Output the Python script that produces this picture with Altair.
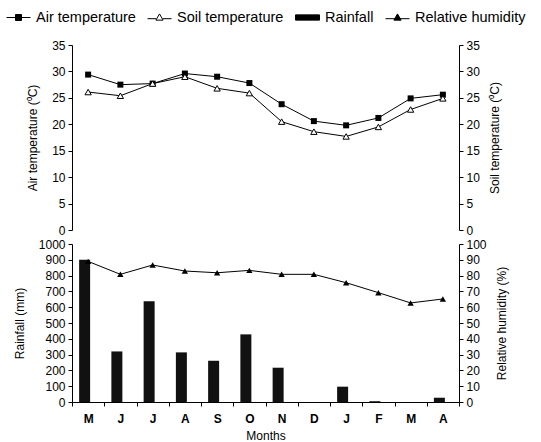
import altair as alt
import pandas as pd

months = ["M", "J", "J", "A", "S", "O", "N", "D", "J", "F", "M", "A"]
air_temp = [29.4, 27.5, 27.7, 29.6, 29.0, 27.8, 23.8, 20.6, 19.8, 21.2, 24.9, 25.6]
soil_temp = [26.1, 25.4, 27.7, 29.0, 26.8, 25.9, 20.5, 18.6, 17.7, 19.5, 22.8, 24.9]
rainfall = [900, 320, 637, 314, 261, 428, 217, 0, 97, 5, 0, 27]
humidity = [89.0, 80.8, 86.7, 82.9, 81.8, 83.3, 80.8, 80.8, 75.5, 69.2, 62.7, 65.2]

series_names = ["Air temperature", "Soil temperature", "Rainfall", "Relative humidity"]
series_paths = [
    "M-1,0H1M-0.25,-0.25H0.25V0.25H-0.25Z",
    "M-1,0.1H-0.28M0.28,0.1H1M0,-0.3L0.3,0.22H-0.3Z",
    "M-1,-0.22H1V0.22H-1Z",
    "M-1,0.1H1M0,-0.3L0.3,0.22H-0.3Z",
]
series_fill = ["black", "white", "black", "black"]
series_stroke = ["black", "black", "black", "black"]

keys = [f"{m}{i:02d}" for i, m in enumerate(months)]
df = pd.DataFrame({
    "key": keys,
    "air": air_temp,
    "soil": soil_temp,
    "rain": rainfall,
    "rh": humidity,
})
df_leg = pd.DataFrame({"series": series_names, "key": keys[:4], "v": [0, 0, 0, 0]})

FONT = "Liberation Sans"
W = 387

xscale = alt.Scale(domain=keys, paddingInner=0, paddingOuter=0)


def yaxis(orient, title, step, maxv):
    return alt.Axis(
        orient=orient, title=title, values=list(range(0, maxv + 1, step)), format="d",
        grid=False, tickSize=4, tickColor="black", domainColor="black",
        labelColor="black", titleColor="black", labelFont=FONT, titleFont=FONT,
        labelFontSize=12, titleFontSize=12, titleFontWeight="normal",
        labelPadding=3, titlePadding=12 if orient == "left" else 10,
        titleAngle=270, titleBaseline="bottom" if orient == "left" else "top",
        labelOverlap=False,
    )


temp_scale = alt.Scale(domain=[0, 35])
left_temp_axis = yaxis("left", "Air temperature (⁰C)", 5, 35)

base = alt.Chart(df).encode(x=alt.X("key:O", scale=xscale, axis=None))

air_line = base.mark_line(color="black", strokeWidth=1).encode(
    y=alt.Y("air:Q", scale=temp_scale, axis=left_temp_axis))
air_pts = base.mark_point(shape="square", filled=True, color="black", size=36, opacity=1).encode(
    y=alt.Y("air:Q", scale=temp_scale, axis=left_temp_axis))
soil_line = base.mark_line(color="black", strokeWidth=1).encode(
    y=alt.Y("soil:Q", scale=temp_scale, axis=left_temp_axis))
soil_pts = base.mark_point(shape="triangle-up", fill="white", stroke="black", strokeWidth=1,
                           size=40, opacity=1).encode(
    y=alt.Y("soil:Q", scale=temp_scale, axis=left_temp_axis))

leg = alt.Legend(title=None, orient="none", direction="horizontal",
                 legendX=-66, legendY=-40,
                 symbolSize=576, symbolStrokeColor="black",
                 symbolStrokeWidth=1, symbolOpacity=1,
                 labelFont=FONT, labelFontSize=14.5, labelColor="black",
                 labelOffset=5, columnPadding=9)

legend_layer = alt.Chart(df_leg).mark_point(opacity=0, strokeWidth=1).encode(
    x=alt.X("key:O", scale=xscale, axis=None),
    y=alt.Y("v:Q", scale=temp_scale, axis=left_temp_axis),
    shape=alt.Shape("series:N", scale=alt.Scale(domain=series_names, range=series_paths), legend=leg),
    fill=alt.Fill("series:N", scale=alt.Scale(domain=series_names, range=series_fill), legend=leg),
    stroke=alt.Stroke("series:N", scale=alt.Scale(domain=series_names, range=series_stroke), legend=leg),
)

soil_axis = base.mark_line(opacity=0).encode(
    y=alt.Y("soil:Q", scale=alt.Scale(domain=[0, 35]),
            axis=yaxis("right", "Soil temperature (⁰C)", 5, 35)))

left_top = alt.layer(air_line, air_pts, soil_line, soil_pts, legend_layer)
top = alt.layer(left_top, soil_axis).resolve_scale(y="independent").properties(width=W, height=185)

xaxis = alt.Axis(
    title="Months", labelExpr="substring(datum.label, 0, 1)", labelAngle=0,
    tickBand="extent", tickSize=4, tickColor="black", domainColor="black",
    labelColor="black", titleColor="black", labelFont=FONT, titleFont=FONT,
    labelFontSize=12, labelFontWeight="bold", titleFontSize=12, titleFontWeight="normal",
    labelPadding=7, titlePadding=6,
)

rain_axis = yaxis("left", "Rainfall (mm)", 100, 1000)
rh_axis = yaxis("right", "Relative humidity (%)", 10, 100)
rh_scale = alt.Scale(domain=[0, 100])

base_b = alt.Chart(df).encode(x=alt.X("key:O", scale=xscale, axis=xaxis))
bars = base_b.mark_bar(color="#111111", size=11, xOffset=-3.5).encode(
    y=alt.Y("rain:Q", scale=alt.Scale(domain=[0, 1000]), axis=rain_axis))
rh_line = base_b.mark_line(color="black", strokeWidth=1).encode(
    y=alt.Y("rh:Q", scale=rh_scale, axis=rh_axis))
rh_pts = base_b.mark_point(shape="triangle-up", filled=True, color="black", size=40, opacity=1).encode(
    y=alt.Y("rh:Q", scale=rh_scale, axis=rh_axis))
rh = alt.layer(rh_line, rh_pts)
bottom = alt.layer(bars, rh).resolve_scale(y="independent").properties(width=W, height=158)

chart = alt.vconcat(top, bottom, spacing=14, bounds="flush").properties(
    padding={"left": 6, "top": 5, "right": 5, "bottom": 0},
    background="white",
).configure_view(stroke=None)

chart.save("out.html", embed_options={"renderer": "svg", "actions": False})
